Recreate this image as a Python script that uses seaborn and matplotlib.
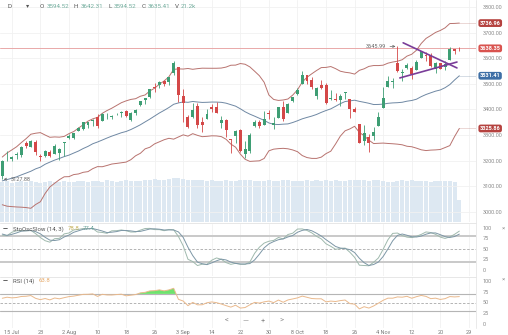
import numpy as np
import pandas as pd
import matplotlib
matplotlib.use("Agg")
import matplotlib.pyplot as plt
import seaborn as sns

# ---- earlier closes (May 1 - Jun 12), only used to seed the RSI ----
early_close = [2830.71, 2842.74, 2868.44, 2848.42, 2881.19, 2929.80, 2930.32, 2870.12, 2820.00, 2852.50,
               2863.70, 2953.91, 2922.94, 2971.61, 2948.51, 2955.45, 2991.77, 3036.13, 3029.73, 3044.31,
               3055.73, 3080.82, 3122.87, 3112.35, 3193.93, 3232.39, 3207.18, 3190.14, 3002.10, 3041.31]

# ---- warm-up sessions (Jun 15 - Jul 13), used to seed the indicators ----
warm_open = [2993.76, 3131.00, 3136.13, 3101.64, 3140.29, 3094.42, 3138.70, 3114.40, 3046.60, 3073.20,
             3018.59, 3050.20, 3105.92, 3143.64, 3155.29, 3166.44, 3153.07, 3176.17, 3152.47, 3205.08]
warm_high = [3079.76, 3153.45, 3141.16, 3120.00, 3155.53, 3120.92, 3154.90, 3115.01, 3086.25, 3073.73,
             3053.89, 3111.51, 3128.44, 3165.81, 3182.59, 3184.15, 3171.80, 3179.78, 3186.82, 3235.32]
warm_low = [2965.66, 3076.06, 3108.03, 3093.51, 3083.11, 3079.40, 3127.12, 3032.13, 3024.01, 3004.63,
            2999.70, 3047.83, 3101.17, 3124.52, 3155.29, 3142.93, 3136.53, 3115.70, 3136.22, 3149.43]
warm_close = [3066.59, 3124.74, 3113.49, 3115.34, 3097.74, 3117.86, 3131.29, 3050.33, 3083.76, 3009.05,
              3053.24, 3100.29, 3115.86, 3130.01, 3179.72, 3145.32, 3169.94, 3152.05, 3184.98, 3155.22]

# ---- daily sessions shown on the chart (Jul 14 - Nov 27) ----
opens = [3141.11, 3225.98, 3208.36, 3224.21, 3224.29, 3268.52, 3254.86, 3271.64, 3218.58, 3219.84,
         3234.27, 3227.22, 3231.76, 3270.45, 3288.26, 3289.92, 3317.37, 3323.17, 3340.05, 3356.04,
         3370.34, 3355.46, 3372.95, 3368.66, 3380.86, 3387.04, 3392.51, 3360.48, 3386.01, 3418.09,
         3435.95, 3449.97, 3485.14, 3494.69, 3509.73, 3507.44, 3543.76, 3564.74, 3453.60, 3371.88,
         3369.82, 3412.56, 3352.70, 3363.56, 3407.73, 3411.23, 3346.86, 3357.38, 3285.57, 3295.75,
         3320.11, 3226.14, 3236.66, 3333.90, 3350.92, 3341.21, 3385.87, 3338.94, 3367.27, 3408.74,
         3384.56, 3434.28, 3459.67, 3500.02, 3534.01, 3515.47, 3453.72, 3493.50, 3493.66, 3439.38,
         3439.91, 3438.50, 3464.90, 3441.42, 3403.15, 3342.48, 3277.17, 3293.59, 3296.20, 3336.25,
         3406.46, 3485.74, 3508.34, 3583.04, 3543.26, 3563.22, 3562.67, 3552.57, 3600.16, 3610.31,
         3612.09, 3559.41, 3579.31, 3566.82, 3594.52, 3635.50, 3638.55]
highs = [3200.95, 3238.28, 3220.39, 3233.52, 3258.61, 3277.29, 3279.32, 3279.99, 3227.26, 3241.43,
         3243.72, 3264.74, 3250.92, 3272.17, 3302.73, 3306.84, 3330.77, 3351.03, 3352.54, 3363.29,
         3380.99, 3387.89, 3387.24, 3378.51, 3387.59, 3395.06, 3399.54, 3390.80, 3399.96, 3432.09,
         3444.21, 3481.07, 3501.38, 3509.23, 3514.77, 3528.03, 3588.11, 3564.85, 3479.15, 3379.97,
         3424.77, 3425.55, 3368.95, 3402.93, 3419.48, 3428.92, 3375.17, 3362.27, 3285.57, 3320.31,
         3323.35, 3278.70, 3306.88, 3360.74, 3357.92, 3393.56, 3397.18, 3369.10, 3409.57, 3431.56,
         3426.26, 3447.28, 3482.34, 3549.85, 3534.01, 3527.94, 3489.08, 3515.76, 3502.42, 3476.93,
         3464.86, 3460.53, 3466.46, 3441.42, 3409.51, 3342.48, 3341.05, 3304.93, 3330.14, 3389.49,
         3486.25, 3529.05, 3521.58, 3645.99, 3557.22, 3581.16, 3569.02, 3593.66, 3628.51, 3623.11,
         3619.09, 3585.22, 3581.23, 3589.81, 3642.31, 3635.50, 3644.31]
lows = [3127.88, 3200.76, 3198.59, 3205.65, 3215.16, 3247.77, 3253.10, 3222.66, 3200.05, 3214.25,
        3216.17, 3227.22, 3204.13, 3220.26, 3284.53, 3286.37, 3317.37, 3318.14, 3328.72, 3335.44,
        3326.44, 3355.46, 3363.35, 3361.64, 3379.22, 3370.15, 3369.66, 3354.69, 3379.31, 3413.13,
        3421.84, 3444.15, 3468.35, 3484.32, 3493.25, 3494.60, 3535.23, 3427.41, 3349.63, 3329.27,
        3366.84, 3329.25, 3310.47, 3363.56, 3389.25, 3384.45, 3328.82, 3292.40, 3229.10, 3270.95,
        3232.57, 3209.45, 3228.44, 3332.91, 3327.54, 3340.47, 3361.39, 3323.69, 3367.27, 3354.54,
        3384.56, 3428.15, 3458.07, 3499.61, 3500.86, 3480.55, 3440.89, 3480.45, 3419.93, 3435.65,
        3433.06, 3415.34, 3440.45, 3364.86, 3388.71, 3268.89, 3259.82, 3233.94, 3279.74, 3336.25,
        3405.17, 3485.74, 3484.34, 3547.48, 3511.91, 3557.00, 3518.58, 3552.57, 3600.16, 3588.68,
        3567.33, 3543.84, 3556.85, 3552.77, 3594.52, 3617.76, 3629.33]
closes = [3197.52, 3226.56, 3215.57, 3224.73, 3251.84, 3257.30, 3276.02, 3235.66, 3215.63, 3239.41,
          3218.44, 3258.44, 3246.22, 3271.12, 3294.61, 3306.51, 3327.77, 3349.16, 3351.28, 3360.47,
          3333.69, 3380.35, 3373.43, 3372.85, 3381.99, 3389.78, 3374.85, 3385.51, 3397.16, 3431.28,
          3443.62, 3478.73, 3484.55, 3508.01, 3500.31, 3526.65, 3580.84, 3455.06, 3426.96, 3331.84,
          3398.96, 3339.19, 3340.97, 3383.54, 3401.20, 3385.49, 3357.01, 3319.47, 3281.06, 3315.57,
          3236.92, 3246.59, 3298.46, 3351.60, 3335.47, 3363.00, 3380.80, 3348.42, 3408.60, 3360.97,
          3419.44, 3446.83, 3477.14, 3534.22, 3511.93, 3488.67, 3483.34, 3483.81, 3426.92, 3443.12,
          3435.56, 3453.49, 3465.39, 3400.97, 3390.68, 3271.03, 3310.11, 3269.96, 3310.24, 3369.16,
          3443.44, 3510.45, 3509.44, 3550.50, 3545.53, 3572.66, 3537.01, 3585.15, 3626.91, 3609.53,
          3567.79, 3581.87, 3557.54, 3577.59, 3635.41, 3629.65, 3638.35]
# volume in thousands
volumes = [20.6, 21.0, 20.4, 20.9, 21.3, 20.8, 21.1, 20.5, 20.2, 20.7,
           21.0, 20.6, 20.9, 21.2, 20.8, 20.5, 21.0, 21.3, 20.9, 21.4,
           21.1, 20.8, 21.5, 21.0, 20.7, 21.2, 21.6, 21.3, 21.0, 21.4,
           21.7, 21.9, 22.1, 21.6, 22.0, 22.3, 22.6, 22.8, 22.4, 21.9,
           21.6, 22.0, 21.7, 21.2, 21.5, 21.0, 21.3, 21.8, 21.4, 21.1,
           21.6, 21.9, 21.5, 21.2, 21.0, 21.4, 21.7, 21.3, 21.1, 21.5,
           21.8, 21.4, 21.0, 21.3, 21.6, 21.2, 21.5, 21.1, 21.7, 21.4,
           21.6, 21.2, 21.0, 21.5, 21.8, 22.0, 21.6, 21.3, 21.7, 21.5,
           21.2, 20.6, 20.9, 21.4, 21.6, 21.3, 21.5, 21.4, 21.2, 21.0,
           20.8, 21.3, 21.1, 21.0, 21.2, 20.9, 11.6]

tick_pos = [2, 8, 14, 20, 26, 32, 38, 44, 50, 56, 62, 68, 74, 80, 86, 92, 98]
tick_labels = ["15 Jul", "23", "2 Aug", "10", "18", "26", "3 Sep", "14", "22", "30",
               "8 Oct", "18", "26", "4 Nov", "12", "20", "29"]
price_ticks = [3000, 3100, 3200, 3300, 3400, 3500, 3600, 3700, 3800]
osc_ticks = [0, 25, 50, 75, 100]
focus_day = 94   # session shown in the header / legends

# trend lines of the November triangle: (session, price) end points
tri_upper = [(84.2, 3660.0), (95.5, 3562.0)]
tri_lower = [(83.5, 3523.0), (95.5, 3585.0)]

# ---- indicators ----
nw = len(warm_close)
h_all = pd.Series(warm_high + highs)
l_all = pd.Series(warm_low + lows)
c_all = pd.Series(warm_close + closes)

# Bollinger bands (20, 2)
bb_mid = c_all.rolling(20).mean()
bb_sd = c_all.rolling(20).std(ddof=0)
bb_up = bb_mid + 2 * bb_sd
bb_lo = bb_mid - 2 * bb_sd

# slow stochastic (14, 3)
hh = h_all.rolling(14).max()
ll = l_all.rolling(14).min()
fast_k = 100 * (c_all - ll) / (hh - ll)
slow_k = fast_k.rolling(3).mean()
slow_d = slow_k.rolling(3).mean()

# Wilder RSI(14), seeded with a simple average of the first 14 moves
c_rsi = np.array(early_close + warm_close + closes)
moves = np.diff(c_rsi)
up_mv = np.clip(moves, 0, None)
dn_mv = np.clip(-moves, 0, None)
ag = up_mv[:14].mean()
al = dn_mv[:14].mean()
rsi_vals = [np.nan] * 15
for g, d in zip(up_mv[14:], dn_mv[14:]):
    ag = (ag * 13 + g) / 14
    al = (al * 13 + d) / 14
    rsi_vals.append(100 - 100 / (1 + ag / al))
rsi_vals = np.array(rsi_vals)[-len(closes):]

n = len(closes)
x = np.arange(n)
df = pd.DataFrame({
    "x": x, "open": opens, "high": highs, "low": lows, "close": closes, "vol": volumes,
    "up": bb_up.values[nw:], "mid": bb_mid.values[nw:], "lo": bb_lo.values[nw:],
    "k": slow_k.values[nw:], "d": slow_d.values[nw:], "rsi": rsi_vals,
})

# ---- styling ----
sns.set_theme(style="white")
plt.rcParams["font.family"] = ["Roboto", "DejaVu Sans"]

W, H = 508, 335
fig = plt.figure(figsize=(W / 100, H / 100), dpi=100)
fig.patch.set_facecolor("white")


def rect(x0, y0, x1, y1):
    return [x0 / W, 1 - y1 / H, (x1 - x0) / W, (y1 - y0) / H]


GREEN = "#3e9e74"
RED = "#d44848"
BAND_RED = "#b8736f"
BAND_BLUE = "#6f88a3"
GRID = "#f1f1f1"
LABEL = "#8a8a8a"
DARK = "#555555"
XL = (-0.48, 99.5)
AX_R = 476

ax_vol = fig.add_axes(rect(0, 0, AX_R, 222))
ax = fig.add_axes(rect(0, 0, AX_R, 222), sharex=ax_vol)
ax_st = fig.add_axes(rect(0, 224, AX_R, 276), sharex=ax_vol)
ax_rs = fig.add_axes(rect(0, 277, AX_R, 328), sharex=ax_vol)
ax.patch.set_alpha(0)

for a in (ax_vol, ax, ax_st, ax_rs):
    for s in a.spines.values():
        s.set_visible(False)
    a.set_xlim(*XL)
    a.set_xticks(tick_pos)
    a.tick_params(axis="x", length=0, labelbottom=False)

# volume bars (background layer)
ax_vol.bar(df["x"], df["vol"], width=0.86, color="#dde8f2", edgecolor="none")
ax_vol.set_ylim(0, 115)
ax_vol.set_yticks([])
for p in tick_pos:
    ax_vol.axvline(p, color=GRID, lw=0.6, zorder=0)

# price panel
ax.set_ylim(2961, 3827)
for pt in price_ticks:
    ax.axhline(pt, color=GRID, lw=0.6, zorder=0)
ax.axhline(closes[-1], color="#e9a9a9", lw=0.7, zorder=1)

sns.lineplot(data=df, x="x", y="up", ax=ax, color=BAND_RED, lw=0.7, zorder=2)
sns.lineplot(data=df, x="x", y="lo", ax=ax, color=BAND_RED, lw=0.7, zorder=2)
sns.lineplot(data=df, x="x", y="mid", ax=ax, color=BAND_BLUE, lw=0.7, zorder=2)
for col, colr in (("up", BAND_RED), ("mid", BAND_BLUE), ("lo", BAND_RED)):
    ax.plot([n - 1, XL[1]], [df[col].iloc[-1]] * 2, color=colr, lw=0.4, alpha=0.5)

is_up = df["close"] >= df["open"]
colors = np.where(is_up, GREEN, RED)
ax.vlines(df["x"], df["low"], df["high"], colors=colors, lw=0.6, zorder=3)
body_lo = np.minimum(df["open"], df["close"])
body_h = np.maximum(np.abs(df["close"] - df["open"]), 1.6)
ax.bar(df["x"], body_h, bottom=body_lo, width=0.62, color=colors, edgecolor="none", zorder=4)

tri_color = "#7a3d99"
for seg in (tri_upper, tri_lower):
    ax.plot([seg[0][0], seg[1][0]], [seg[0][1], seg[1][1]], color=tri_color, lw=1.2,
            solid_capstyle="round", zorder=5)

# high / low markers
hi_i = int(np.argmax(highs))
lo_i = int(np.argmin(lows))
ax.annotate(f"{highs[hi_i]:.2f}", xy=(hi_i - 0.4, highs[hi_i]), xytext=(hi_i - 2.4, highs[hi_i]),
            fontsize=4, color="#666", ha="right", va="center",
            arrowprops=dict(arrowstyle="->", color="#666", lw=0.5, shrinkA=0.5, shrinkB=0))
ax.annotate(f"{lows[lo_i]:.2f}", xy=(lo_i + 0.3, lows[lo_i]), xytext=(lo_i + 1.7, lows[lo_i]),
            fontsize=4, color="#666", ha="left", va="center",
            arrowprops=dict(arrowstyle="->", color="#666", lw=0.5, shrinkA=0.5, shrinkB=0))

ax.yaxis.tick_right()
ax.set_yticks(price_ticks)
ax.set_yticklabels([f"{v:.2f}" for v in price_ticks])
ax.tick_params(axis="y", length=0, pad=5, labelsize=4, labelcolor=LABEL)
ax.set_xlabel("")
ax.set_ylabel("")


def tag(a, val, color):
    a.text(1.008, val, f"{val:.2f}", transform=a.get_yaxis_transform(), fontsize=4, color="white",
           ha="left", va="center", fontweight="bold", clip_on=False, zorder=10,
           bbox=dict(boxstyle="round,pad=0.25,rounding_size=0.4", fc=color, ec="none"))


tag(ax, df["up"].iloc[-1], "#b5423f")
tag(ax, closes[-1], "#d9534f")
tag(ax, df["mid"].iloc[-1], "#3e6fa6")
tag(ax, df["lo"].iloc[-1], "#b5423f")


def chain(x0, y0, pieces, size):
    """Write text pieces one after another on a line starting at pixel (x0, y0)."""
    prev = fig.text(x0 / W, 1 - y0 / H, pieces[0][0], fontsize=size, color=pieces[0][1], va="center")
    for txt, col, gap in pieces[1:]:
        prev = fig.add_artist(matplotlib.text.Annotation(
            txt, xy=(1, 0.5), xycoords=prev, xytext=(gap, 0), textcoords="offset points",
            fontsize=size, color=col, va="center", annotation_clip=False))
    return prev


# header with the focused session
VALC = "#72ad9d"
fig.text(8 / W, 1 - 6 / H, "D", fontsize=4.6, color=DARK, va="center")
fig.text(26 / W, 1 - 6 / H, "▾", fontsize=4.6, color=DARK, va="center")
chain(40, 6, [("O", DARK), (f"{opens[focus_day]:.2f}", VALC, 1.6),
              ("H", DARK, 3.5), (f"{highs[focus_day]:.2f}", VALC, 1.6),
              ("L", DARK, 3.5), (f"{lows[focus_day]:.2f}", VALC, 1.6),
              ("C", DARK, 3.5), (f"{closes[focus_day]:.2f}", VALC, 1.6),
              ("V", DARK, 3.5), (f"{volumes[focus_day]:.1f}k", VALC, 1.6)], 4.5)

# stochastic panel
ax_st.set_ylim(-14.3, 109.5)
for p in tick_pos:
    ax_st.axvline(p, color=GRID, lw=0.6, zorder=0)
ax_st.axhline(80, color="#c9c9c9", lw=1.4, zorder=1)
ax_st.axhline(20, color="#c9c9c9", lw=1.4, zorder=1)
ax_st.axhline(50, color="#a8a8a8", lw=0.6, ls=(0, (3, 2)), zorder=1)
sns.lineplot(data=df, x="x", y="k", ax=ax_st, color="#9fb9ad", lw=0.7, zorder=3)
sns.lineplot(data=df, x="x", y="d", ax=ax_st, color="#7d97a6", lw=0.7, zorder=3)
ax_st.yaxis.tick_right()
ax_st.set_yticks(osc_ticks)
ax_st.tick_params(axis="y", length=0, pad=5, labelsize=4, labelcolor=LABEL)
ax_st.set_xlabel("")
ax_st.set_ylabel("")
fig.text(3 / W, 1 - 229 / H, "—", fontsize=4.6, color="#333", va="center", fontweight="bold")
chain(13, 229, [("StoOscSlow (14, 3)", DARK), (f"{df['k'].iloc[focus_day]:.1f}", "#c7b25a", 3.0),
                (f"{df['d'].iloc[focus_day]:.1f}", "#6aa39a", 2.5)], 4.3)

# RSI panel
ax_rs.set_ylim(-9.3, 109.3)
for p in tick_pos:
    ax_rs.axvline(p, color=GRID, lw=0.6, zorder=0)
ax_rs.axhline(70, color="#b5b5b5", lw=0.8, zorder=1)
ax_rs.axhline(30, color="#b5b5b5", lw=0.8, zorder=1)
ax_rs.axhline(50, color="#a8a8a8", lw=0.6, ls=(0, (3, 2)), zorder=1)
ax_rs.fill_between(df["x"], df["rsi"], 70, where=df["rsi"] > 70, interpolate=True,
                   color="#5ee05e", alpha=0.9, lw=0, zorder=2)
sns.lineplot(data=df, x="x", y="rsi", ax=ax_rs, color="#eab98c", lw=0.7, zorder=3)
ax_rs.yaxis.tick_right()
ax_rs.set_yticks(osc_ticks)
ax_rs.tick_params(axis="y", length=0, pad=5, labelsize=4, labelcolor=LABEL)
ax_rs.set_xlabel("")
ax_rs.set_ylabel("")
ax_rs.tick_params(axis="x", labelbottom=True, labelsize=4, labelcolor="#777", pad=1.5)
ax_rs.set_xticklabels(tick_labels)
fig.text(3 / W, 1 - 281 / H, "—", fontsize=4.6, color="#333", va="center", fontweight="bold")
chain(13, 281, [("RSI (14)", DARK), (f"{df['rsi'].iloc[focus_day]:.1f}", "#e6a867", 3.0)], 4.3)

# navigation glyphs along the lower panel
for gx, g in ((227, "<"), (245, "—"), (263, "+"), (282, ">")):
    fig.text(gx / W, 1 - 321 / H, g, fontsize=5.5, color="#8c8c8c", ha="center", va="center")

# panel separators and close marks
for yy in (223, 276.5):
    fig.add_artist(plt.Line2D([0, AX_R / W], [1 - yy / H] * 2, color="#e3e3e3", lw=0.6))
fig.add_artist(plt.Line2D([AX_R / W] * 2, [1 - 328 / H, 1], color="#e6e6e6", lw=0.6))
fig.text(503 / W, 1 - 228 / H, "×", fontsize=4.5, color="#999", ha="center", va="center")
fig.text(503 / W, 1 - 279 / H, "×", fontsize=4.5, color="#999", ha="center", va="center")

fig.savefig("out.png", dpi=100)
